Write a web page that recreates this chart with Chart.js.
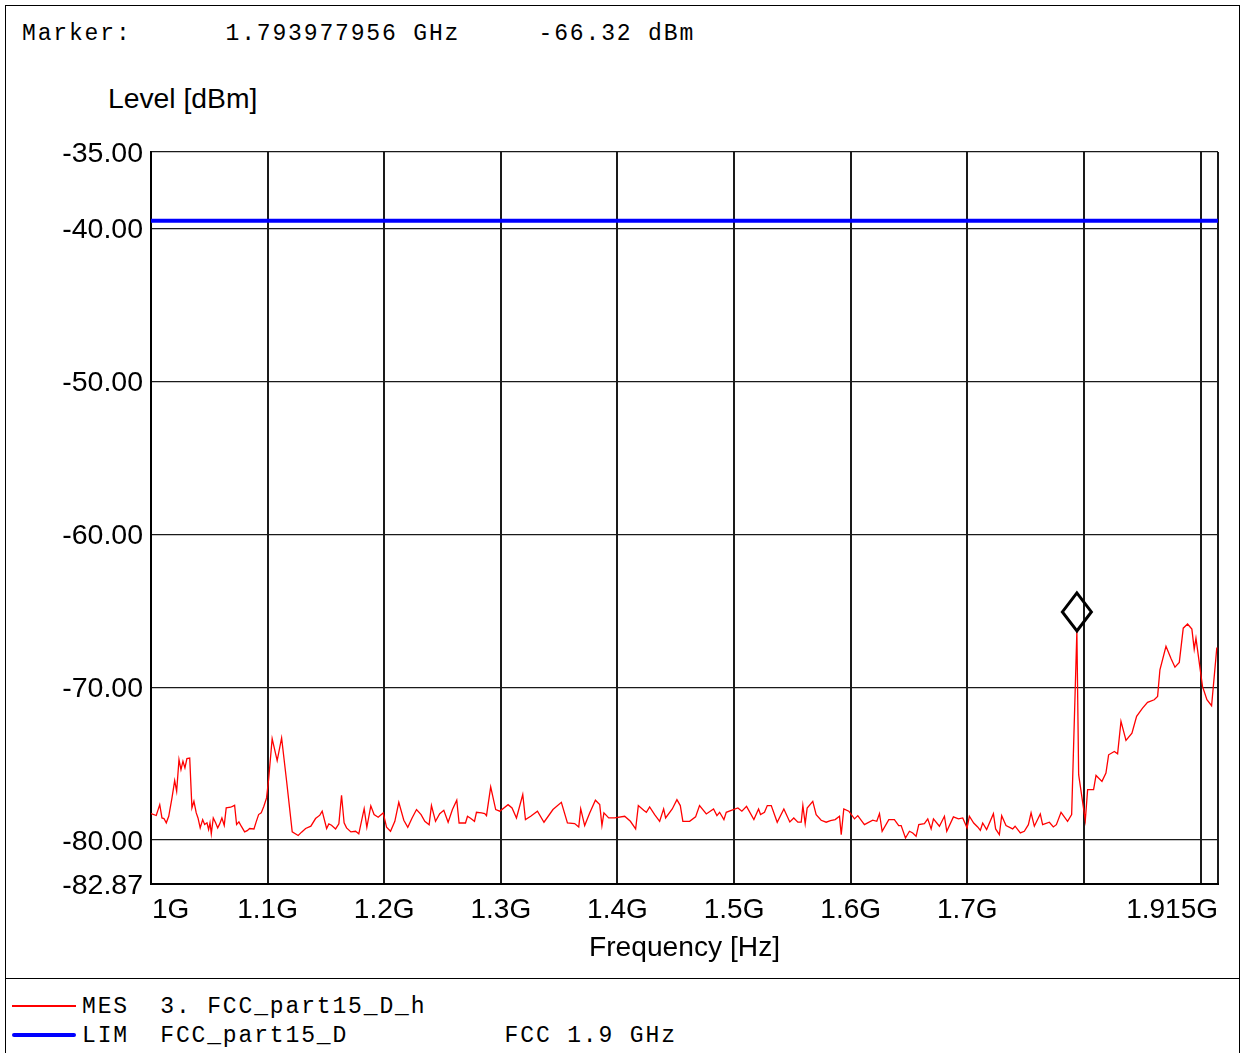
<!DOCTYPE html>
<html>
<head>
<meta charset="utf-8">
<title>Level [dBm]</title>
<script src="https://cdn.jsdelivr.net/npm/chart.js@4.4.1/dist/chart.umd.min.js"></script>
<style>
  html, body { margin: 0; padding: 0; background: #fff; }
  body { width: 1240px; height: 1053px; position: relative; overflow: hidden; font-family: "Liberation Sans", Arial, sans-serif; color: #000; }
  #frame { position: absolute; left: 5px; top: 5px; width: 1235px; height: 1060px; border: 1px solid #000; box-sizing: border-box; }
  #divider { position: absolute; left: 5px; top: 978px; width: 1235px; height: 1px; background: #000; }
  .mono { position: absolute; font-family: "Liberation Mono", monospace; font-size: 23px; line-height: 20px; letter-spacing: 1.85px; white-space: pre; }
  #level-title { position: absolute; left: 108px; top: 85px; font-size: 28.3px; line-height: 27px; white-space: pre; }
  #chart-wrap { position: absolute; left: 0; top: 0; width: 1240px; height: 975px; }
  .legend-line { position: absolute; left: 12px; width: 64px; }
</style>
</head>
<body>
<div id="frame"></div>
<div id="divider"></div>

<div class="mono" style="left:22px; top:24px;">Marker:      1.793977956 GHz     -66.32 dBm</div>
<div id="level-title">Level [dBm]</div>

<div id="chart-wrap"><canvas id="spectrum"></canvas></div>

<div class="legend-line" style="top:1005px; height:1.5px; background:#ff0000;"></div>
<div class="mono" style="left:82px; top:997px;">MES  3. FCC_part15_D_h</div>
<div class="legend-line" style="top:1033px; height:4px; border-radius:2px; background:#0000ff;"></div>
<div class="mono" style="left:82px; top:1026px;">LIM  FCC_part15_D          FCC 1.9 GHz</div>

<script>
// --- data (frequency in MHz, level in dBm) ---
const FREQ_MHZ = [
  1000.0, 1004.5, 1007.5, 1009.4, 1011.1, 1013.1, 1015.2, 1018.0, 1020.3, 1022.0,
  1024.0, 1025.7, 1027.4, 1029.1, 1030.8, 1033.2, 1035.1, 1036.8, 1038.8, 1040.3,
  1042.2, 1044.3, 1046.0, 1048.0, 1049.4, 1050.6, 1051.7, 1053.4, 1055.4, 1057.2,
  1058.9, 1060.8, 1062.8, 1064.5, 1068.3, 1070.3, 1071.7, 1073.4, 1075.4, 1077.4,
  1080.3, 1082.5, 1084.6, 1088.3, 1090.2, 1092.3, 1094.5, 1096.8, 1099.1, 1100.9,
  1103.9, 1108.2, 1112.0, 1116.3, 1121.1, 1126.2, 1129.1, 1132.6, 1137.1, 1141.1,
  1144.8, 1146.8, 1150.6, 1152.5, 1154.8, 1158.3, 1161.1, 1163.4, 1165.6, 1167.7,
  1171.4, 1175.4, 1178.2, 1182.8, 1185.1, 1188.5, 1191.3, 1194.8, 1199.1, 1202.0,
  1205.4, 1209.1, 1212.5, 1216.8, 1220.2, 1223.9, 1227.7, 1231.6, 1234.8, 1238.5,
  1240.5, 1244.0, 1247.6, 1251.1, 1254.8, 1258.5, 1262.2, 1264.2, 1269.7, 1271.4,
  1274.0, 1277.4, 1279.1, 1283.4, 1286.2, 1287.7, 1291.3, 1295.6, 1299.1,
  1306.2, 1309.6, 1313.4, 1318.8, 1321.1, 1325.6, 1331.4, 1337.0, 1344.7, 1351.9,
  1357.1, 1363.3, 1366.8, 1368.5, 1371.9, 1376.2, 1381.1, 1384.8, 1386.7, 1388.4,
  1392.5, 1397.6,
  1406.2, 1411.1, 1415.6, 1417.9, 1422.5, 1424.8, 1427.6, 1431.9, 1436.2, 1439.6,
  1441.3, 1447.0, 1451.0, 1453.9, 1456.1, 1461.9, 1467.0, 1470.4, 1476.2, 1482.4,
  1485.3, 1487.6, 1491.3, 1493.3, 1497.6,
  1503.3, 1506.7, 1510.7, 1517.0, 1521.0, 1522.7, 1526.1, 1528.5, 1531.9, 1537.0,
  1542.7, 1547.8, 1551.2, 1554.7, 1557.6, 1559.0, 1561.0, 1562.7, 1567.5, 1570.4,
  1574.7, 1579.0, 1582.7, 1586.7, 1590.4, 1591.9, 1594.1,
  1598.4, 1603.3, 1606.1, 1611.8, 1618.9, 1622.4, 1624.7, 1627.0, 1632.7, 1637.5,
  1641.2, 1643.3, 1647.0, 1650.4, 1653.2, 1656.1, 1658.4, 1663.2, 1666.1, 1669.0,
  1671.0, 1676.1, 1680.4, 1682.4, 1688.1,
  1692.4, 1696.1, 1699.8, 1701.8, 1705.5, 1708.9, 1711.2, 1713.2, 1716.6, 1722.4,
  1724.3, 1727.5, 1729.5, 1733.2, 1738.9, 1741.0, 1745.5, 1748.9, 1752.4, 1754.7,
  1757.5, 1762.6, 1764.6, 1770.4, 1773.8, 1776.4, 1780.4, 1786.0, 1789.5,
  1793.98, 1795.5, 1801.2, 1803.2, 1808.3, 1810.4, 1815.5, 1818.9, 1821.2, 1826.1,
  1828.9, 1831.8, 1836.1, 1841.2, 1845.2, 1850.3, 1854.6, 1860.3, 1863.2, 1865.2,
  1870.4, 1874.6, 1878.1, 1881.8, 1885.2, 1888.9, 1892.6, 1894.6, 1896.1, 1901.7,
  1905.5, 1909.5, 1914.0
];

const LEVEL_DBM = [
  -78.26, -78.39, -77.68, -78.55, -78.59, -78.87, -78.44, -77.24, -76.11, -76.80,
  -74.73, -75.39, -74.84, -75.28, -74.67, -74.63, -77.89, -77.46, -78.22, -78.55,
  -79.20, -78.66, -78.98, -78.87, -79.31, -78.87, -79.59, -78.55, -78.87, -79.20,
  -78.94, -78.55, -79.03, -77.89, -77.85, -77.78, -77.72, -78.98, -78.81, -79.09,
  -79.46, -79.38, -79.24, -79.27, -78.81, -78.33, -78.22, -77.78, -77.24, -76.00,
  -73.36, -74.80, -73.32, -76.15, -79.46, -79.70, -79.48, -79.24, -79.09, -78.59,
  -78.37, -78.11, -79.24, -78.94, -79.03, -79.27, -78.94, -77.07, -78.87, -79.20,
  -79.46, -79.42, -79.59, -77.94, -79.16, -77.76, -78.33, -78.50, -78.22, -79.16,
  -79.42, -78.77, -77.53, -78.70, -79.16, -78.55, -78.00, -78.33, -78.77, -78.99,
  -77.74, -78.77, -78.27, -78.05, -78.83, -78.00, -77.39, -78.88, -78.88, -78.44,
  -78.57, -78.77, -78.18, -78.22, -78.27, -78.40, -76.52, -78.00, -78.11,
  -77.68, -77.90, -78.55, -77.02, -78.66, -78.44, -78.11, -78.83, -78.00, -77.53,
  -78.88, -78.92, -79.14, -77.96, -79.05, -78.22, -77.39, -77.68, -79.05, -78.22,
  -78.55, -78.55,
  -78.44, -78.77, -79.27, -77.74, -78.05, -78.18, -77.83, -78.33, -78.77, -77.96,
  -78.55, -77.96, -77.35, -77.74, -78.77, -78.77, -78.48, -77.74, -78.29, -77.96,
  -78.40, -78.18, -78.66, -78.18, -78.05,
  -77.90, -78.11, -77.79, -78.66, -77.96, -78.33, -78.18, -77.74, -77.74, -78.83,
  -77.96, -78.81, -78.55, -78.83, -78.83, -77.74, -78.92, -77.90, -77.46, -78.33,
  -78.70, -78.83, -78.72, -78.66, -78.44, -79.64, -77.96,
  -78.11, -78.61, -78.40, -78.99, -78.70, -78.77, -78.27, -79.42, -78.66, -78.66,
  -79.05, -79.05, -79.86, -79.42, -79.53, -79.75, -78.99, -78.92, -78.61, -79.27,
  -78.61, -79.09, -78.44, -79.42, -78.48,
  -78.61, -78.55, -79.20, -78.44, -78.88, -79.14, -79.36, -78.88, -79.31, -78.27,
  -79.27, -79.64, -78.40, -79.05, -79.27, -79.09, -79.53, -79.42, -78.99, -78.22,
  -79.09, -78.29, -78.99, -78.83, -79.14, -78.99, -78.18, -78.77, -78.33,
  -66.32, -75.72, -78.71, -76.70, -76.70, -75.77, -76.16, -75.61, -74.42, -74.20,
  -74.35, -72.24, -73.48, -73.00, -71.91, -71.37, -70.99, -70.82, -70.60, -68.86,
  -67.33, -68.10, -68.69, -68.38, -66.14, -65.87, -66.20, -67.51, -66.79, -69.95,
  -70.82, -71.21, -67.40
];

// limit line FCC_part15_D
const LIMIT_FREQ_MHZ = [1000, 1915];
const LIMIT_DBM = [-39.5, -39.5];

// marker
const MARKER_FREQ_MHZ = 1793.98;
const MARKER_DBM = -66.32;

// axes
const X_MIN = 1000, X_MAX = 1915;
const Y_MIN = -82.87, Y_MAX = -35;
const X_TICKS = [1000, 1100, 1200, 1300, 1400, 1500, 1600, 1700, 1800, 1900, 1915];
const X_TICK_LABELS = ['1G', '1.1G', '1.2G', '1.3G', '1.4G', '1.5G', '1.6G', '1.7G', '', '', '1.915G'];
const Y_TICKS = [-82.87, -80, -70, -60, -50, -40, -35];

const FONT_FAMILY = '"Liberation Sans", Arial, sans-serif';

// x tick labels: first one left aligned, last one right aligned, others centred
const xLabelPlugin = {
  id: 'xLabels',
  afterDraw(chart) {
    const { ctx } = chart;
    const x = chart.scales.x;
    ctx.save();
    ctx.font = `28px ${FONT_FAMILY}`;
    ctx.fillStyle = '#000';
    ctx.textBaseline = 'middle';
    X_TICKS.forEach((v, i) => {
      const text = X_TICK_LABELS[i];
      if (!text) return;
      ctx.textAlign = i === 0 ? 'left' : (i === X_TICKS.length - 1 ? 'right' : 'center');
      ctx.fillText(text, x.getPixelForValue(v) + (i === 0 ? 1 : 0), x.top + 26);
    });
    ctx.restore();
  }
};

// diamond marker sitting on top of the marked point
const markerPlugin = {
  id: 'marker',
  afterDatasetsDraw(chart) {
    const { ctx, scales: { x, y } } = chart;
    const px = x.getPixelForValue(MARKER_FREQ_MHZ);
    const py = y.getPixelForValue(MARKER_DBM);
    ctx.save();
    ctx.beginPath();
    ctx.moveTo(px, py);
    ctx.lineTo(px - 14.5, py - 19);
    ctx.lineTo(px, py - 38);
    ctx.lineTo(px + 14.5, py - 19);
    ctx.closePath();
    ctx.lineWidth = 3;
    ctx.strokeStyle = '#000';
    ctx.lineJoin = 'miter';
    ctx.stroke();
    ctx.restore();
  }
};

const ctx = document.getElementById('spectrum').getContext('2d');
new Chart(ctx, {
  type: 'line',
  data: {
    datasets: [
      {
        label: 'MES',
        data: FREQ_MHZ.map((f, i) => ({ x: f, y: LEVEL_DBM[i] })),
        borderColor: '#ff0000',
        borderWidth: 1.3,
        pointRadius: 0,
        tension: 0
      },
      {
        label: 'LIM',
        data: LIMIT_FREQ_MHZ.map((f, i) => ({ x: f, y: LIMIT_DBM[i] })),
        borderColor: '#0000ff',
        borderWidth: 4,
        pointRadius: 0,
        tension: 0
      }
    ]
  },
  options: {
    responsive: true,
    maintainAspectRatio: false,
    animation: false,
    layout: { padding: { top: 152, right: 22, left: 0, bottom: 0 } },
    plugins: {
      legend: { display: false },
      tooltip: { enabled: false }
    },
    scales: {
      x: {
        type: 'linear',
        min: X_MIN,
        max: X_MAX,
        afterBuildTicks: (scale) => { scale.ticks = X_TICKS.map(v => ({ value: v })); },
        afterFit: (scale) => { scale.height = 91; },
        ticks: { display: false },
        grid: { color: '#1a1a1a', lineWidth: 2, drawTicks: false },
        border: { color: '#000', width: 2 },
        title: {
          display: true,
          text: 'Frequency [Hz]',
          color: '#000',
          font: { size: 28.2, family: FONT_FAMILY },
          padding: { top: 0, bottom: 10 }
        }
      },
      y: {
        type: 'linear',
        min: Y_MIN,
        max: Y_MAX,
        afterBuildTicks: (scale) => { scale.ticks = Y_TICKS.map(v => ({ value: v })); },
        afterFit: (scale) => { scale.width = 151; },
        ticks: {
          callback: (v) => Number(v).toFixed(2),
          color: '#000',
          font: { size: 28.5, family: FONT_FAMILY },
          padding: 8,
          labelOffset: 2,
          autoSkip: false
        },
        grid: { color: '#1a1a1a', lineWidth: 1.3, drawTicks: false },
        border: { color: '#000', width: 2 }
      }
    }
  },
  plugins: [xLabelPlugin, markerPlugin]
});
</script>
</body>
</html>
